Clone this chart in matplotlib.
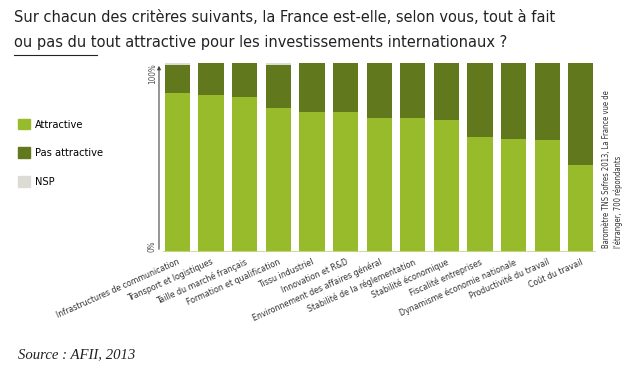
import matplotlib.pyplot as plt
from matplotlib.patches import Patch
from matplotlib import font_manager

# values (%)
criteres = ["Infrastructures de communication", "Transport et logistiques",
            "Taille du marché français", "Formation et qualification",
            "Tissu industriel", "Innovation et R&D",
            "Environnement des affaires général", "Stabilité de la réglementation",
            "Stabilité économique", "Fiscalité entreprises",
            "Dynamisme économie nationale", "Productivité du travail",
            "Coût du travail"]
attractive = [84, 83, 82, 76, 74, 74, 71, 71, 70, 61, 60, 59, 46]
nsp = [1, 0, 0, 1, 0, 0, 0, 0, 0, 0, 0, 0, 0]
pas_attractive = [100 - a - n for a, n in zip(attractive, nsp)]
legende = ['Attractive', 'Pas attractive', 'NSP']

c_attr = '#97bb2b'
c_pas = '#62781c'
c_nsp = '#dcdcd4'

# look for a narrow font, otherwise plain DejaVu Sans
narrow_path = None
for key in ['LiberationSansNarrow-Regular', 'DejaVuSansCondensed.ttf']:
    for f in font_manager.fontManager.ttflist:
        if key in f.fname:
            narrow_path = f.fname
            break
    if narrow_path:
        break


def fp(size):
    if narrow_path:
        return font_manager.FontProperties(fname=narrow_path, size=size)
    return font_manager.FontProperties(family='DejaVu Sans', size=size)


fig = plt.figure(figsize=(6.39, 3.73), dpi=100)
renderer = fig.canvas.get_renderer()


def fit(s, target, prop_fn=fp):
    # font size giving a text width of target pixels
    t = fig.text(0, 0, s, fontproperties=prop_fn(10))
    w = t.get_window_extent(renderer).width
    t.remove()
    return 10 * target / w


ax = fig.add_axes([160/639, 121/373, 438/639, 189/373])

x = list(range(len(criteres)))
ax.bar(x, attractive, width=0.75, color=c_attr)
ax.bar(x, pas_attractive, width=0.75, bottom=attractive, color=c_pas)
bott = [a + p for a, p in zip(attractive, pas_attractive)]
ax.bar(x, nsp, width=0.75, bottom=bott, color=c_nsp)

ax.set_xlim(-0.52, 12.51)
ax.set_ylim(0, 100)
for s in ax.spines.values():
    s.set_visible(False)
ax.set_yticks([])
ax.set_xticks(x)
tick_size = fit(criteres[0], 134)
ax.set_xticklabels(criteres, rotation=24, ha='right', rotation_mode='anchor',
                   fontproperties=fp(tick_size), color='#333333')
ax.tick_params(axis='x', length=0, pad=4)
ax.axhline(0, xmin=0.01, xmax=0.99, color='#c8d890', lw=2)

# vertical axis arrow with 0% / 100%
ax.annotate('', xy=(-0.55, 100), xytext=(-0.55, 0), xycoords='data',
            arrowprops=dict(arrowstyle='-|>', color='#444444', lw=0.8,
                            mutation_scale=5), annotation_clip=False)
small = fp(fit('100%', 21))
ax.text(-0.75, 0, '0%', rotation=90, ha='center', va='bottom',
        fontproperties=small, color='#555555', clip_on=False)
ax.text(-0.75, 100, '100%', rotation=90, ha='center', va='top',
        fontproperties=small, color='#555555', clip_on=False)

# title
l1 = "Sur chacun des critères suivants, la France est-elle, selon vous, tout à fait"
l2 = "ou pas du tout attractive pour les investissements internationaux ?"
title_fp = fp(fit(l1, 541))
fig.text(14/639, 1 - 17/373, l1, ha='left', va='center',
         fontproperties=title_fp, color='#222222')
fig.text(14/639, 1 - 42/373, l2, ha='left', va='center',
         fontproperties=title_fp, color='#222222')
fig.add_artist(plt.Line2D([14/639, 97/639], [1 - 55/373, 1 - 55/373],
                          color='#222222', lw=0.8))

# legend
handles = [Patch(color=c_attr), Patch(color=c_pas), Patch(color=c_nsp)]
leg_size = fit(legende[1], 68)
leg = fig.legend(handles, legende,
                 loc='upper left', bbox_to_anchor=(9/639, 1 - 110/373),
                 frameon=False, handlelength=1.1, handleheight=1.1,
                 labelspacing=1.6, handletextpad=0.45, borderpad=0.3,
                 prop=fp(leg_size))

# source on the right
n1 = "Baromètre TNS Sofres 2013, La France vue de"
n2 = "l'étranger, 700 répondants"
note_fp = fp(fit(n1, 158))
fig.text(606/639, 1 - 248/373, n1, rotation=90, ha='center', va='bottom',
         fontproperties=note_fp, color='#333333')
fig.text(618/639, 1 - 248/373, n2, rotation=90, ha='center', va='bottom',
         fontproperties=note_fp, color='#333333')

serif = lambda s: font_manager.FontProperties(family='Liberation Serif',
                                              style='italic', size=s)
src = 'Source : AFII, 2013'
fig.text(18/639, 1 - 355/373, src, ha='left', va='center',
         fontproperties=serif(fit(src, 118, serif)), color='#222222')

fig.savefig('out.png', dpi=100)
